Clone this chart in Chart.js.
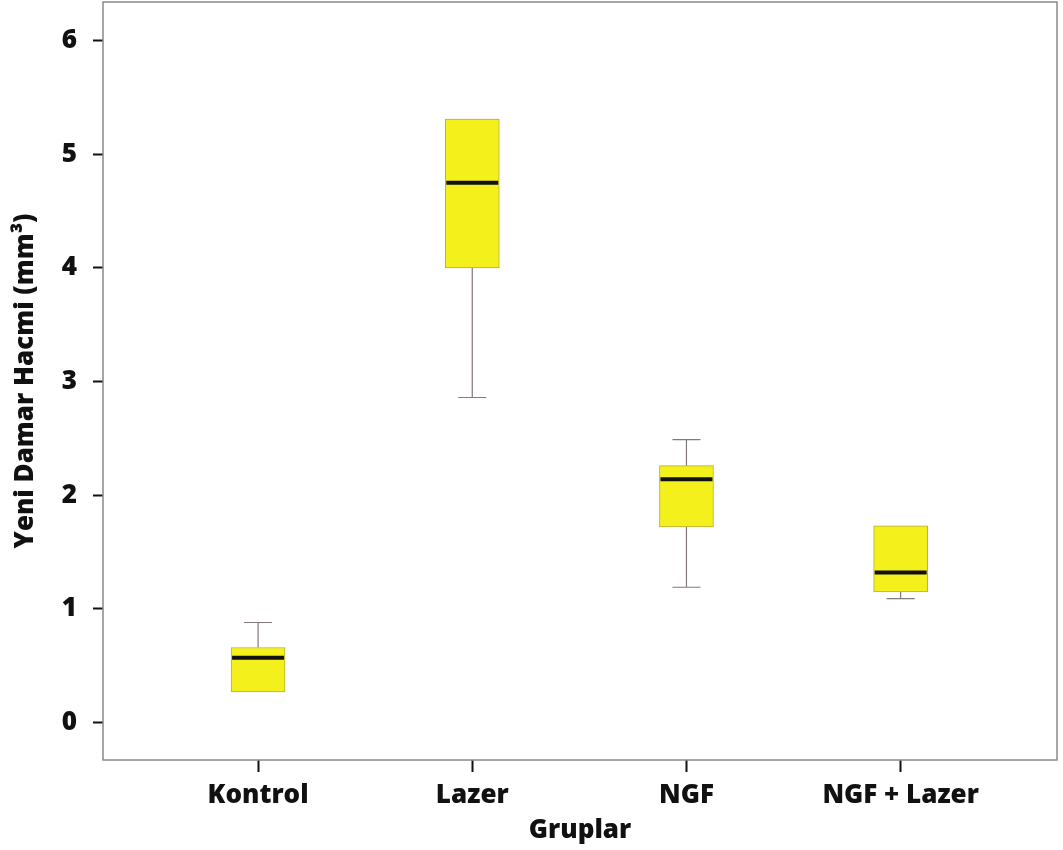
<!DOCTYPE html>
<html>
<head>
<meta charset="utf-8">
<script src="https://cdn.jsdelivr.net/npm/chart.js@4"></script>
<style>
  body { margin: 0; background: #fff; }
  #wrap { width: 1063px; height: 850px; }
</style>
</head>
<body>
<div id="wrap"><canvas id="box" width="1063" height="850"></canvas></div>
<script>
// box plot values
const groups   = ['Kontrol', 'Lazer', 'NGF', 'NGF + Lazer'];
const mins     = [0.27, 2.86, 1.19, 1.09];
const q1s      = [0.27, 4.00, 1.72, 1.15];
const medians  = [0.57, 4.75, 2.14, 1.32];
const q3s      = [0.66, 5.31, 2.26, 1.73];
const maxs     = [0.88, 5.31, 2.49, 1.73];
const yTicks   = [0, 1, 2, 3, 4, 5, 6];

const FONT = '"Open Sans", Lato, sans-serif';
const xPos = groups.map((_, i) => i + 1);

// whiskers go behind the boxes, medians on top
const boxExtras = {
  id: 'boxExtras',
  beforeDatasetsDraw(chart) {
    const { ctx, scales: { x, y } } = chart;
    ctx.save();
    ctx.strokeStyle = '#857878';
    ctx.lineWidth = 1.2;
    xPos.forEach((p, i) => {
      const px = x.getPixelForValue(p);
      const pairs = [[q3s[i], maxs[i]], [q1s[i], mins[i]]];
      pairs.forEach(([from, to]) => {
        if (to === from) return;
        const y0 = y.getPixelForValue(from), y1 = y.getPixelForValue(to);
        ctx.beginPath();
        ctx.moveTo(px, y0); ctx.lineTo(px, y1);
        ctx.moveTo(px - 14, y1); ctx.lineTo(px + 14, y1);
        ctx.stroke();
      });
    });
    ctx.restore();
  },
  afterDatasetsDraw(chart) {
    const { ctx, scales: { x, y } } = chart;
    ctx.save();
    ctx.strokeStyle = '#111';
    ctx.lineWidth = 4;
    xPos.forEach((p, i) => {
      const px = x.getPixelForValue(p);
      const py = y.getPixelForValue(medians[i]);
      ctx.beginPath();
      ctx.moveTo(px - 26, py); ctx.lineTo(px + 26, py);
      ctx.stroke();
    });
    ctx.restore();
  },
  afterDraw(chart) {
    const { ctx, chartArea: a } = chart;
    ctx.save();
    ctx.strokeStyle = '#8c8888';
    ctx.lineWidth = 1.5;
    ctx.strokeRect(a.left, a.top, a.right - a.left, a.bottom - a.top);
    ctx.restore();
  }
};

new Chart(document.getElementById('box'), {
  type: 'bar',
  data: {
    datasets: [{
      data: xPos.map((p, i) => ({ x: p, y: [q1s[i], q3s[i]] })),
      backgroundColor: '#f4f01c',
      borderColor: '#b8ad3c',
      borderWidth: 1,
      borderSkipped: false,
      barThickness: 54
    }]
  },
  options: {
    responsive: false,
    animation: false,
    layout: { padding: { top: 2, right: 6, left: 0, bottom: 0 } },
    plugins: { legend: { display: false }, tooltip: { enabled: false } },
    scales: {
      x: {
        type: 'linear',
        offset: false,
        min: 0.276,
        max: 4.73,
        afterBuildTicks: s => { s.ticks = xPos.map(v => ({ value: v })); },
        afterFit: s => { s.height = 90; s.paddingLeft = 0; s.paddingRight = 0; },
        ticks: {
          callback: v => groups[v - 1],
          color: '#111',
          font: { family: FONT, size: 26, weight: '800' },
          padding: 8
        },
        grid: { offset: false, drawOnChartArea: false, drawTicks: true, tickLength: 12, tickWidth: 2, color: '#111' },
        border: { display: false },
        title: {
          display: true, text: 'Gruplar', color: '#111',
          font: { family: FONT, size: 26, weight: '800' },
          padding: { top: 0 }
        }
      },
      y: {
        min: -0.33,
        max: 6.34,
        afterBuildTicks: s => { s.ticks = yTicks.map(v => ({ value: v })); },
        afterFit: s => { s.width = 103; s.paddingTop = 0; s.paddingBottom = 0; },
        ticks: {
          color: '#111',
          font: { family: FONT, size: 26, weight: '800' },
          padding: 16
        },
        grid: { drawOnChartArea: false, drawTicks: true, tickLength: 10, tickWidth: 2, color: '#111' },
        border: { display: false },
        title: {
          display: true, text: 'Yeni Damar Hacmi (mm³)', color: '#111',
          font: { family: FONT, size: 26, weight: '800' },
          padding: { bottom: 0, top: 10 }
        }
      }
    }
  },
  plugins: [boxExtras]
});
</script>
</body>
</html>
